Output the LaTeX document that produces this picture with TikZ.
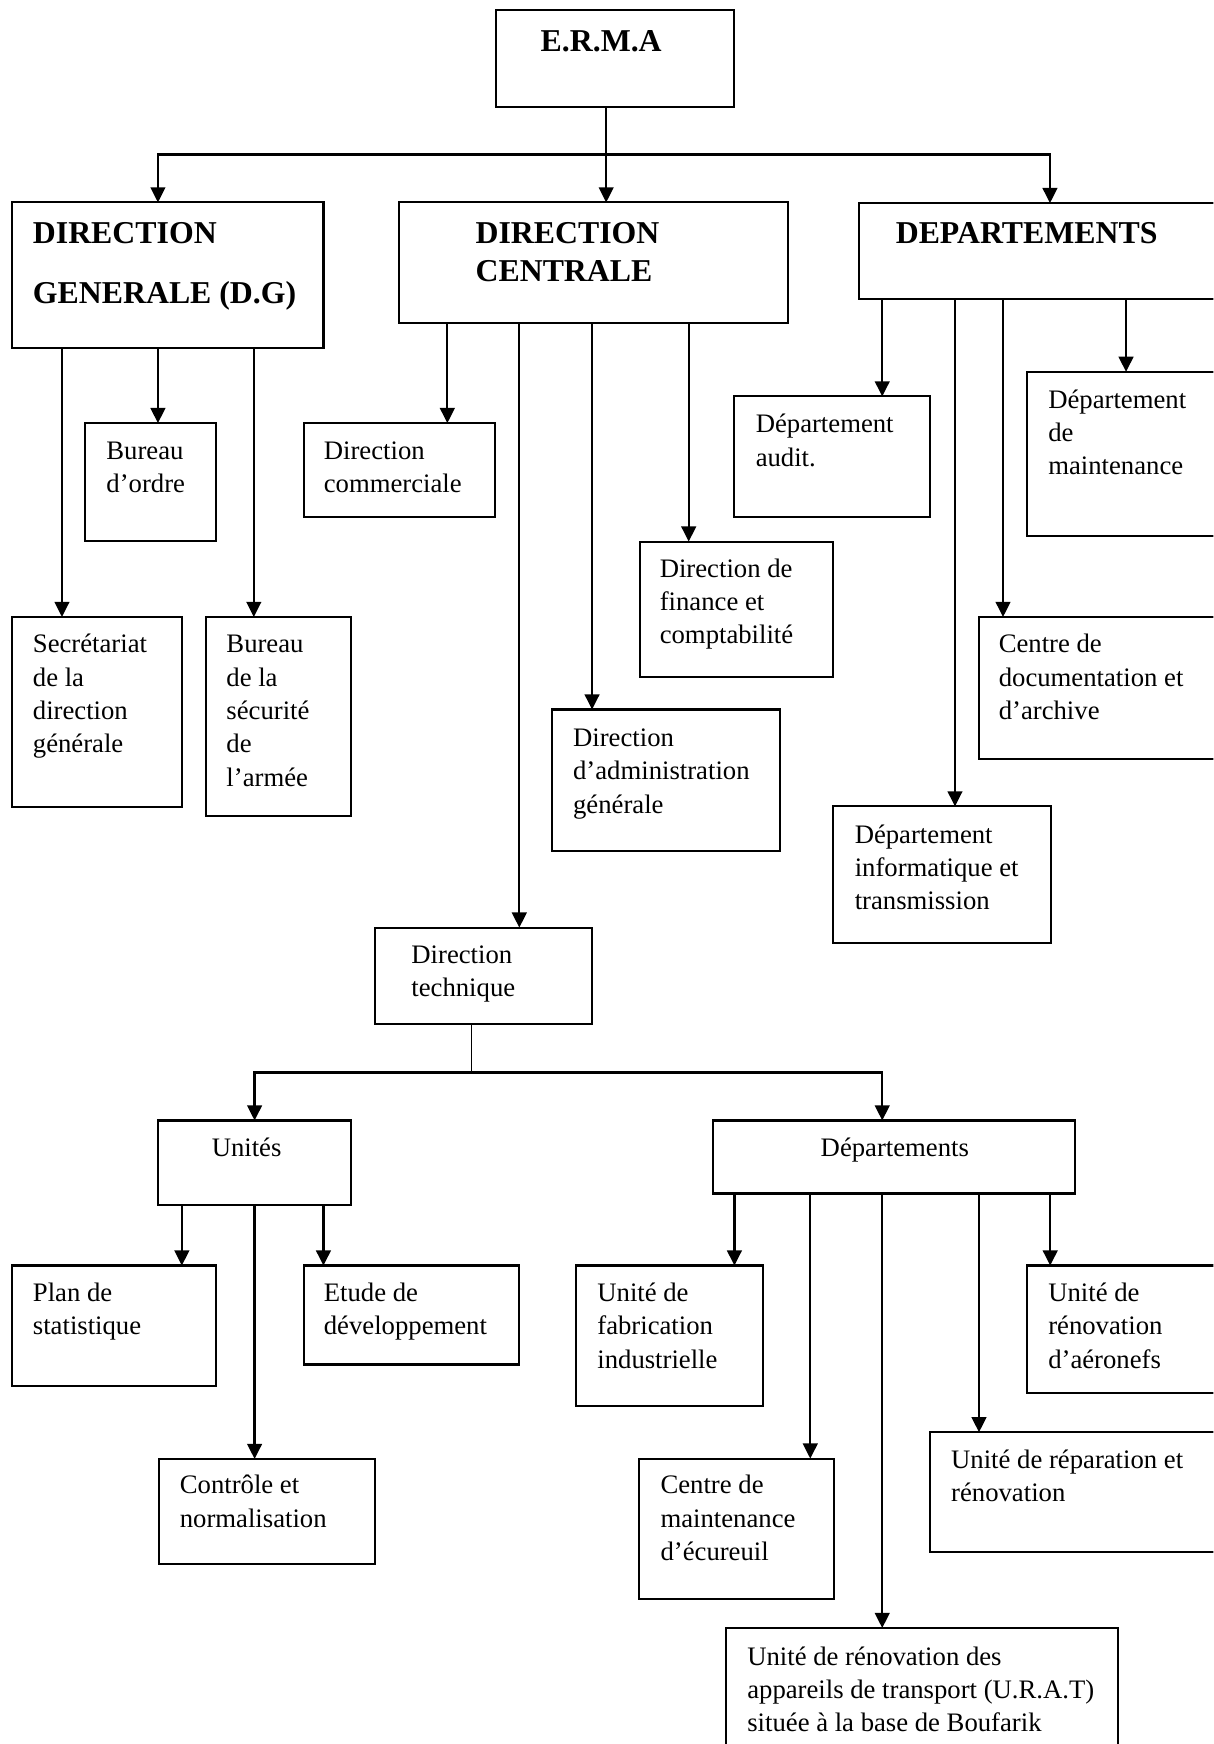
\documentclass[tikz,border=0pt]{standalone}
\usepackage{fontspec}
\setmainfont{Liberation Serif}
\usetikzlibrary{arrows.meta,fit}
\newcommand\bx[5]{\node[boxst, fit={(#2,#3) (#4,#5)}] (#1) {};}
\newcommand\tx[4]{\node[txt] (#1) at (#2,#3) {\begin{tabular}[t]{@{}l@{}}#4\end{tabular}};}
\newcommand\tb[4]{\node[txtb] (#1) at (#2,#3) {\begin{tabular}[t]{@{}l@{}}#4\end{tabular}};}
\begin{document}
\begin{tikzpicture}[x=0.5pt,y=-0.5pt,
  boxst/.style={draw, line width=0.95pt, inner sep=0pt, outer sep=0pt},
  txt/.style={anchor=base west, inner sep=0pt, font=\fontsize{12}{15}\selectfont},
  txtb/.style={anchor=base west, inner sep=0pt, font=\fontsize{14.3}{17}\selectfont\bfseries},
  ln/.style={line width=1pt},
  lnthin/.style={line width=0.6pt},
  arr/.style={line width=1pt, -{Triangle[width=6.6pt,length=6.8pt]}}]
\useasboundingbox (0,0) rectangle (1091,1568);
\fill[white] (0,0) rectangle (1091,1568);
\clip (0,0) rectangle (1091,1568);

% ---------- boxes ----------
\bx{erma}{446}{9}{660}{96}
\bx{dg}{10.4}{182}{290.9}{312.7}
\bx{dc}{359}{182}{708.3}{290.8}
\bx{dep}{772.3}{182.6}{1100}{269.2}
\bx{bo}{76.5}{380.4}{194.1}{486.5}
\bx{sec}{10.4}{554.7}{163.5}{725.4}
\bx{bs}{185.1}{554.7}{315.2}{733.4}
\bx{dcom}{273.4}{380.4}{445.3}{464.9}
\bx{dfin}{575.4}{486.9}{749.3}{608.9}
\bx{dadm}{496.1}{637.9}{701.4}{765}
\bx{dt}{336.8}{834}{532.3}{921}
\bx{daud}{660.3}{356.4}{836.3}{464.9}
\bx{dmai}{923.3}{334.3}{1100}{482.2}
\bx{cdoc}{880.2}{554.7}{1100}{682.1}
\bx{dinf}{749.3}{725}{944.9}{848.2}
\bx{un}{141.9}{1007.4}{315.2}{1083}
\bx{dep2}{640.8}{1007.4}{966.4}{1073}
\bx{plan}{10.4}{1137.8}{194.1}{1246.3}
\bx{etude}{273.4}{1137.8}{466.9}{1226.8}
\bx{ctrl}{143}{1311.7}{337.3}{1406}
\bx{fab}{518.2}{1137.8}{685.6}{1263.7}
\bx{cmaint}{574.6}{1311.4}{749.9}{1437.6}
\bx{urat}{652.9}{1463.7}{1005.5}{1600}
\bx{rep}{836.2}{1287.7}{1100}{1395.7}
\bx{aero}{923.3}{1137.8}{1100}{1252.6}

% ---------- texts ----------
\tb{terma}{485.7}{46.5}{E.R.M.A}
\tb{tdg}{29.2}{219}{DIRECTION\\[10pt] GENERALE (D.G)}
\tb{tdc}{427.2}{219}{DIRECTION\\ CENTRALE}
\tb{tdep}{805}{219}{DEPARTEMENTS}
\tx{tbo}{95.3}{413}{Bureau\\ d’ordre}
\tx{tsec}{29.2}{587}{Secrétariat\\ de la\\ direction\\ générale}
\tx{tbs}{203.2}{587}{Bureau\\ de la\\ sécurité\\ de\\ l’armée}
\tx{tdcom}{290.8}{413}{Direction\\ commerciale}
\tx{tdfin}{592.8}{519}{Direction de\\ finance et\\ comptabilité}
\tx{tdadm}{514.9}{671}{Direction\\ d’administration\\ générale}
\tx{tdt}{369.5}{866}{Direction\\ technique}
\tx{tdaud}{679.1}{389}{Département\\ audit.}
\tx{tdmai}{942.1}{367}{Département\\ de\\ maintenance}
\tx{tcdoc}{897.6}{587}{Centre de\\ documentation et\\ d’archive}
\tx{tdinf}{768.1}{758}{Département\\ informatique et\\ transmission}
\tx{tun}{190}{1040}{Unités}
\tx{tdep2}{737.5}{1040}{Départements}
\tx{tplan}{29.2}{1170}{Plan de\\ statistique}
\tx{tetude}{290.8}{1170}{Etude de\\ développement}
\tx{tctrl}{161.3}{1343}{Contrôle et\\ normalisation}
\tx{tfab}{536.7}{1170}{Unité de\\ fabrication\\ industrielle}
\tx{tcmaint}{593.5}{1343}{Centre de\\ maintenance\\ d’écureuil}
\tx{turat}{671.5}{1497}{Unité de rénovation des\\ appareils de transport (U.R.A.T)\\ située à la base de Boufarik}
\tx{trep}{854.8}{1320}{Unité de réparation et\\ rénovation}
\tx{taero}{942.1}{1170}{Unité de\\ rénovation\\ d’aéronefs}

% ---------- connectors ----------
\coordinate (j1) at (545,139);
\draw[ln] (545,0 |- erma.south) -- (j1);
\draw[arr] (j1) -| (142,0 |- dg.north);
\draw[arr] (j1) -- (545,0 |- dc.north);
\draw[arr] (j1) -| (944,0 |- dep.north);

\draw[arr] (55.7,0 |- dg.south) -- (55.7,0 |- sec.north);
\draw[arr] (142,0 |- dg.south) -- (142,0 |- bo.north);
\draw[arr] (228.2,0 |- dg.south) -- (228.2,0 |- bs.north);

\draw[arr] (402.2,0 |- dc.south) -- (402.2,0 |- dcom.north);
\draw[arr] (466.9,0 |- dc.south) -- (466.9,0 |- dt.north);
\draw[arr] (532.3,0 |- dc.south) -- (532.3,0 |- dadm.north);
\draw[arr] (619.2,0 |- dc.south) -- (619.2,0 |- dfin.north);

\draw[arr] (793.2,0 |- dep.south) -- (793.2,0 |- daud.north);
\draw[arr] (858.6,0 |- dep.south) -- (858.6,0 |- dinf.north);
\draw[arr] (901.8,0 |- dep.south) -- (901.8,0 |- cdoc.north);
\draw[arr] (1012.4,0 |- dep.south) -- (1012.4,0 |- dmai.north);

\coordinate (j2) at (423.7,964.2);
\draw[lnthin] (423.7,0 |- dt.south) -- (j2);
\draw[arr] (j2) -| (228.9,0 |- un.north);
\draw[arr] (j2) -| (793.2,0 |- dep2.north);

\draw[arr] (163.5,0 |- un.south) -- (163.5,0 |- plan.north);
\draw[arr] (228.9,0 |- un.south) -- (228.9,0 |- ctrl.north);
\draw[arr] (290.8,0 |- un.south) -- (290.8,0 |- etude.north);

\draw[arr] (660.3,0 |- dep2.south) -- (660.3,0 |- fab.north);
\draw[arr] (728.5,0 |- dep2.south) -- (728.5,0 |- cmaint.north);
\draw[arr] (793.2,0 |- dep2.south) -- (793.2,0 |- urat.north);
\draw[arr] (880.2,0 |- dep2.south) -- (880.2,0 |- rep.north);
\draw[arr] (944.2,0 |- dep2.south) -- (944.2,0 |- aero.north);
\end{tikzpicture}
\end{document}
